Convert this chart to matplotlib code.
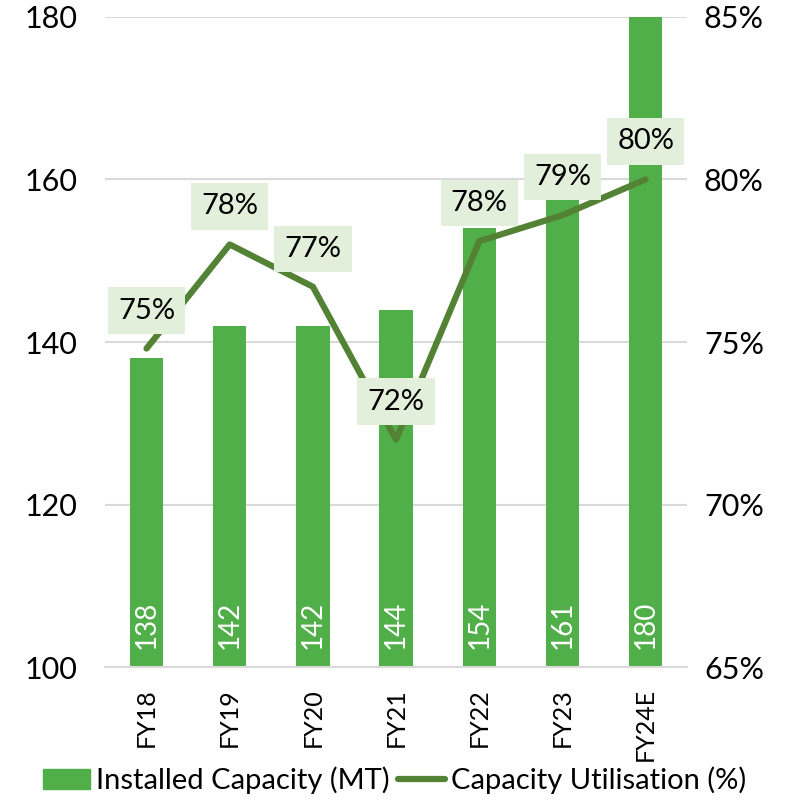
import matplotlib.pyplot as plt
import numpy as np

plt.rcParams['font.family'] = ['Lato', 'DejaVu Sans']

years = ['FY18', 'FY19', 'FY20', 'FY21', 'FY22', 'FY23', 'FY24E']
capacity = [138, 142, 142, 144, 154, 161, 180]
utilisation = [74.8, 78.0, 76.7, 72.0, 78.1, 78.9, 80.0]
util_labels = ['75%', '78%', '77%', '72%', '78%', '79%', '80%']

bar_col = '#50AF48'
line_col = '#548235'
box_col = '#E2EFDA'

fig = plt.figure(figsize=(7.89, 8.01), dpi=100)
ax = fig.add_axes([0.133, 0.167, 0.738, 0.812])
x = np.arange(len(years))

ax.bar(x, capacity, width=0.4, color=bar_col, zorder=2)
ax.set_ylim(100, 180)
ax.set_xlim(-0.5, len(years) - 0.5)
ax.set_yticks([100, 120, 140, 160, 180])
ax.yaxis.grid(True, color='#D9D9D9', lw=1.5, zorder=0)
ax.set_axisbelow(True)
for s in ['top', 'right', 'left']:
    ax.spines[s].set_visible(False)
ax.spines['bottom'].set_color('#D9D9D9')
ax.spines['bottom'].set_linewidth(1.5)
ax.tick_params(axis='both', length=0, labelsize=22, colors='black')
ax.tick_params(axis='y', pad=20)
ax.tick_params(axis='x', pad=15)
ax.set_xticks(x)
ax.set_xticklabels(years, rotation=90, fontsize=18)

for xi, v in zip(x, capacity):
    ax.text(xi, 102.2, str(v), rotation=90, ha='center', va='bottom',
            color='white', fontsize=20, zorder=3)

ax2 = ax.twinx()
ax2.set_ylim(65, 85)
ax2.set_yticks([65, 70, 75, 80, 85])
ax2.set_yticklabels(['65%', '70%', '75%', '80%', '85%'])
for s in ax2.spines.values():
    s.set_visible(False)
ax2.tick_params(axis='y', length=0, labelsize=22, pad=12)
line, = ax2.plot(x, utilisation, color=line_col, lw=4.5, zorder=4,
                 solid_capstyle='round')

for xi, v, lab in zip(x, utilisation, util_labels):
    ax2.annotate(lab, (xi, v), xytext=(0, 38), textcoords='offset pixels',
                 ha='center', va='center', fontsize=21, zorder=5,
                 bbox=dict(boxstyle='square,pad=0.35', fc=box_col, ec='none'))

bars = plt.Rectangle((0, 0), 1, 1, color=bar_col)
fig.legend([bars, line], ['Installed Capacity (MT)', 'Capacity Utilisation (%)'],
           loc='lower center', bbox_to_anchor=(0.5, -0.024), ncol=2, frameon=False,
           fontsize=21, handlelength=1.6, handletextpad=0.2, columnspacing=0.3)

fig.savefig('out.png', dpi=100)
